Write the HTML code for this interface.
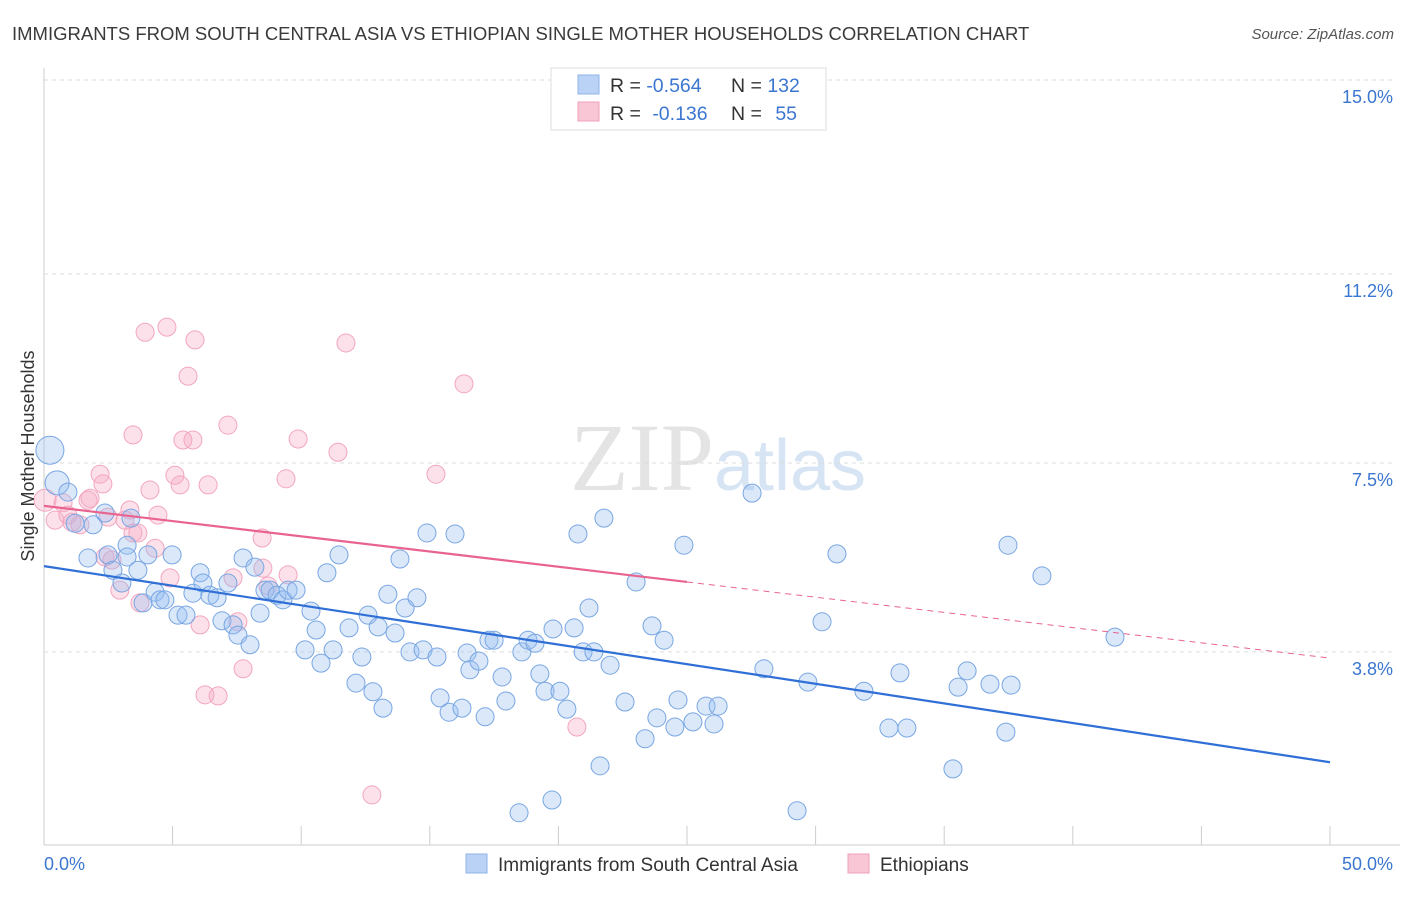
<!DOCTYPE html>
<html><head><meta charset="utf-8"><style>
body{margin:0;background:#fff;font-family:"Liberation Sans",sans-serif;}
</style></head><body>
<svg id="chart" width="1406" height="892" xmlns="http://www.w3.org/2000/svg" style="font-family:'Liberation Sans',sans-serif">
<text x="12" y="40" font-size="18.5" fill="#3a3a3a">IMMIGRANTS FROM SOUTH CENTRAL ASIA VS ETHIOPIAN SINGLE MOTHER HOUSEHOLDS CORRELATION CHART</text>
<text x="1394" y="39" font-size="15" fill="#555" font-style="italic" text-anchor="end">Source: ZipAtlas.com</text>
<text x="718" y="490" font-size="96" fill="#e4e4e4" text-anchor="middle" font-family="Liberation Serif">ZIP<tspan fill="#d6e4f4" font-family="Liberation Sans" font-size="72">atlas</tspan></text>
<g id="grid"></g><g id="marks"></g>
<text transform="translate(34,456) rotate(-90)" font-size="18" fill="#333" text-anchor="middle">Single Mother Households</text>
<g>
<rect x="551" y="68" width="275" height="62" fill="#fff" stroke="#ddd"/>
<rect x="578" y="75" width="21" height="19" fill="#b9d2f5" stroke="#8fb3e8"/>
<rect x="578" y="102" width="21" height="19" fill="#f9c6d6" stroke="#f0a0bb"/>
<text x="610" y="92" font-size="19.5" fill="#333">R = <tspan fill="#3b76d0">-0.564</tspan><tspan x="731">N = </tspan><tspan fill="#3b76d0">132</tspan></text>
<text x="610" y="120" font-size="19.5" fill="#333">R = <tspan fill="#3b76d0" dx="6">-0.136</tspan><tspan x="731">N = </tspan><tspan fill="#3b76d0" dx="8">55</tspan></text>
</g>
<g>
<rect x="466" y="854" width="21" height="19" fill="#b9d2f5" stroke="#8fb3e8"/>
<text x="498" y="871" font-size="19" fill="#333">Immigrants from South Central Asia</text>
<rect x="848" y="854" width="21" height="19" fill="#f9c6d6" stroke="#f0a0bb"/>
<text x="880" y="871" font-size="19" fill="#333">Ethiopians</text>
</g>
</svg>
<script>
const xTicks=[0,5,10,15,20,25,30,35,40,45,50];
const yTicks=[3.8,7.5,11.2,15.0];
const yTickLabels=["3.8%","7.5%","11.2%","15.0%"];
const blueX=[0.23,0.51,0.93,1.21,1.91,1.71,2.49,2.37,3.23,3.23,2.68,3.03,3.38,3.65,4.04,3.85,4.32,4.51,4.70,4.98,5.21,5.52,5.79,6.07,6.18,6.45,6.73,6.92,7.15,7.35,7.54,7.74,8.01,8.20,8.40,8.59,8.79,9.06,9.29,9.49,9.80,10.15,10.38,10.58,10.77,11.00,11.24,11.47,11.86,12.13,12.36,12.60,12.79,12.99,13.18,13.37,13.65,13.84,14.04,14.23,14.50,14.74,14.89,15.28,15.40,15.75,15.98,16.25,16.45,16.56,16.91,17.15,17.30,17.50,17.81,17.96,18.58,18.82,19.09,19.28,19.48,19.79,20.06,20.33,20.61,20.76,20.96,21.19,21.38,21.62,21.77,22.01,22.59,23.02,23.37,23.64,23.83,24.11,24.53,24.65,24.88,25.23,25.74,26.05,26.21,27.53,27.99,29.70,30.25,30.83,31.88,32.85,33.28,33.55,35.34,35.54,35.89,36.78,37.40,37.48,37.60,38.80,41.64,18.47,19.75,29.28];
const blueY=[7.75,7.11,6.93,6.32,6.29,5.64,5.70,6.52,5.89,5.66,5.40,5.15,6.42,5.40,5.70,4.76,4.97,4.82,4.82,5.70,4.52,4.52,4.95,5.35,5.15,4.91,4.86,4.41,5.15,4.33,4.13,5.64,3.94,5.46,4.56,5.01,5.01,4.91,4.82,5.01,5.01,3.84,4.60,4.23,3.58,5.35,3.84,5.70,4.27,3.19,3.70,4.52,3.02,4.29,2.70,4.93,4.17,5.62,4.66,3.80,4.86,3.84,6.13,3.70,2.90,2.62,6.11,2.70,3.78,3.45,3.62,2.53,4.03,4.03,3.31,2.84,3.80,4.03,3.97,3.37,3.03,4.25,3.03,2.68,4.27,6.11,3.80,4.66,3.80,1.57,6.42,3.54,2.82,5.17,2.10,4.31,2.51,4.03,2.33,2.86,5.89,2.43,2.74,2.39,2.74,6.91,3.47,3.21,4.39,5.72,3.03,2.31,3.39,2.31,1.51,3.11,3.43,3.17,2.23,5.89,3.15,5.29,4.09,0.65,0.90,0.69];
const pinkX=[0.04,0.43,0.74,0.93,1.09,1.40,1.71,1.79,2.18,2.29,2.49,2.37,2.64,2.95,3.15,3.34,3.46,3.65,3.73,3.93,4.12,4.32,4.43,4.78,4.90,5.09,5.29,5.40,5.60,5.79,5.87,6.07,6.26,6.38,6.77,7.15,7.35,7.54,7.74,8.51,8.71,9.41,9.49,9.88,11.43,11.74,12.75,15.24,16.33,20.72,8.48,3.46];
const pinkY=[6.77,6.38,6.72,6.48,6.34,6.29,6.77,6.81,7.28,7.09,6.44,5.66,5.60,5.01,6.38,6.58,6.13,6.13,4.76,10.06,6.97,5.83,6.48,10.16,5.25,7.26,7.07,7.95,9.20,7.95,9.91,4.33,2.96,7.07,2.94,8.24,5.25,4.39,3.47,5.44,5.09,7.19,5.31,7.97,7.71,9.85,1.00,7.28,9.05,2.33,6.03,8.05];
const blueTrend=[5.48,1.64];
const pinkTrend=[6.66,3.68];
const pinkSolidEnd=25;
const X0=44,X1=1330,Y0=846,PXPER=51.07;
const sx=v=>X0+(v/50)*(X1-X0);
const sy=v=>Y0-v*PXPER;
const NS="http://www.w3.org/2000/svg";
const grid=document.getElementById('grid'),marks=document.getElementById('marks');
function mk(tag,attrs,parent){const e=document.createElementNS(NS,tag);for(const k in attrs)e.setAttribute(k,attrs[k]);parent.appendChild(e);return e;}
let ax=mk('line',{x1:X0,y1:68,x2:X0,y2:845,stroke:'#ccc'},grid);


let bx=mk('line',{x1:X0,y1:845,x2:X1+70,y2:845,stroke:'#ccc'},grid);


yTicks.forEach((t,i)=>{
 const g=mk('line',{x1:X0,x2:1394,y1:sy(t),y2:sy(t),stroke:'#ddd','stroke-dasharray':'4,4'},grid);
 
 
 const l=mk('text',{x:1393,y:sy(t)+23,'font-size':18,fill:'#3b76d0','text-anchor':'end'},grid);
 l.textContent=yTickLabels[i];
 
 
});
xTicks.forEach(t=>{
 const k=mk('line',{x1:sx(t),x2:sx(t),y1:826,y2:845,stroke:'#ccc'},grid);
 
 
});
[[0,'0.0%','start',44],[50,'50.0%','end',1393]].forEach(a=>{
 const l=mk('text',{x:a[3],y:870,'font-size':18,fill:'#3b76d0','text-anchor':a[2]},grid);
 l.textContent=a[1];
 
 
});
function dots(xs,ys,fill,stroke,name){
 xs.forEach((x,i)=>{
  let r=9;
  if(name==='blue-point'){ if(i===0) r=14; else if(i===1) r=12; }
  else if(i===0) r=11;
  const c=mk('circle',{cx:sx(x),cy:sy(ys[i]),r:r,fill:fill,stroke:stroke,'stroke-width':1},marks);
  
  
 });
}
dots(pinkX,pinkY,'rgba(246,170,196,0.35)','#f2a6bf','pink-point');
dots(blueX,blueY,'rgba(150,188,240,0.35)','#79a6e2','blue-point');
let bt=mk('line',{x1:sx(0),y1:sy(blueTrend[0]),x2:sx(50),y2:sy(blueTrend[1]),stroke:'#2f6fd6','stroke-width':2.2},marks);


const pmid=pinkTrend[0]+(pinkTrend[1]-pinkTrend[0])*pinkSolidEnd/50;
let pt=mk('line',{x1:sx(0),y1:sy(pinkTrend[0]),x2:sx(pinkSolidEnd),y2:sy(pmid),stroke:'#e8648f','stroke-width':2.2},marks);


let pd=mk('line',{x1:sx(pinkSolidEnd),y1:sy(pmid),x2:sx(50),y2:sy(pinkTrend[1]),stroke:'#e8648f','stroke-width':1,'stroke-dasharray':'6,5'},marks);


</script>
</body></html>
